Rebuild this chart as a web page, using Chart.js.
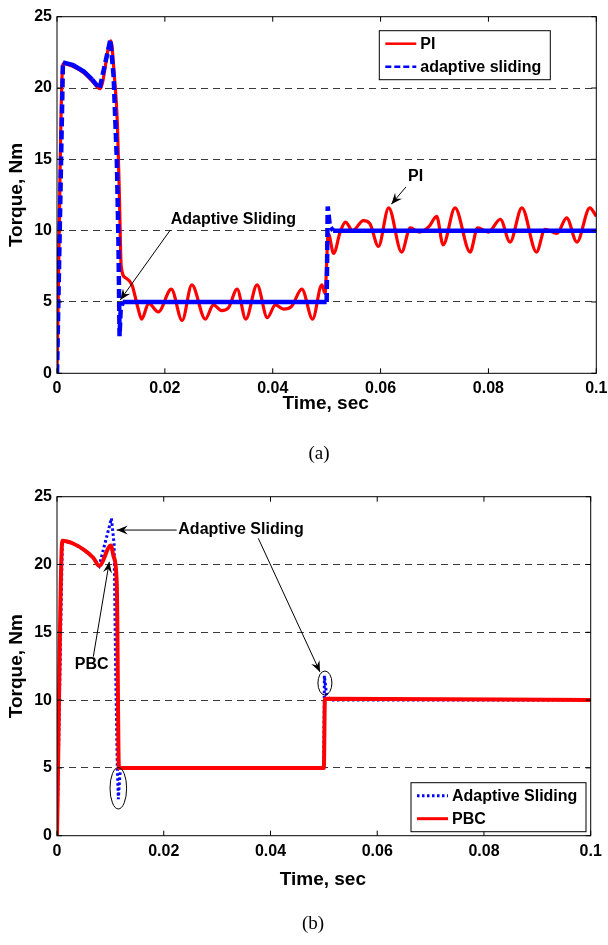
<!DOCTYPE html>
<html><head><meta charset="utf-8">
<script src="https://cdn.jsdelivr.net/npm/chart.js@4.4.0/dist/chart.umd.min.js"></script>
<style>
html,body{margin:0;padding:0;background:#fff;width:608px;height:945px;overflow:hidden;position:relative}
canvas{position:absolute;left:0}
#c1{top:0}
#c2{top:470px}
.cap{position:absolute;font-family:"Liberation Serif","Times New Roman",serif;font-size:19px;color:#000;width:60px;text-align:center;line-height:20px}
</style></head><body>
<canvas id="c1" width="608" height="470"></canvas>
<canvas id="c2" width="608" height="475"></canvas>
<div class="cap" style="left:289px;top:443px">(a)</div>
<div class="cap" style="left:283px;top:913px">(b)</div>
<script>
// ---------- data ----------
const xTicks = [0, 0.02, 0.04, 0.06, 0.08, 0.1];
const yTicks = [0, 5, 10, 15, 20, 25];

// (a) PI controller torque
const piTime = [0,0.0011,0.003,0.005,0.0065,0.0080,0.0100,0.0106,0.0112,0.0116,0.0119,0.0127,0.0139,0.0150,0.0157,0.0170,0.0188,0.0212,0.0232,0.0250,0.0275,0.0290,0.0305,0.0318,0.0334,0.0350,0.0371,0.0390,0.0405,0.0420,0.0435,0.0454,0.0474,0.0491,0.0497,0.0503,0.0513,0.0525,0.0535,0.0548,0.0568,0.0580,0.0596,0.0615,0.0639,0.0655,0.0672,0.0690,0.0704,0.0716,0.0738,0.0766,0.0780,0.0800,0.0822,0.0840,0.0862,0.0889,0.0905,0.0927,0.0945,0.0964,0.0988,0.1000];
const piTorque = [0,21.7,21.5,21.05,20.5,19.95,23.3,21.0,17.5,12,7.5,6.7,6.2,4.6,3.8,4.9,4.3,5.9,3.7,6.2,3.8,4.8,4.4,4.6,5.9,3.8,6.2,3.9,4.8,4.5,4.7,5.9,3.8,6.2,5.6,9.8,8.4,9.9,10.6,10.0,10.7,10.5,8.9,11.6,8.5,10.2,9.9,10.3,11.0,9.0,11.6,8.5,10.2,9.9,10.8,9.2,11.6,8.5,10.1,9.8,10.9,9.2,11.6,11.0];

// (a) adaptive sliding torque
const smcATime = [0,0.0011,0.003,0.005,0.0065,0.0079,0.0099,0.0105,0.0111,0.0114,0.0116,0.0118,0.0122,0.0500,0.0502,0.0506,0.0512,0.1];
const smcATorque = [0,21.8,21.6,21.15,20.6,19.95,23.4,20.8,14.9,9.1,2.6,4.4,5.0,5.0,11.7,10.3,10.0,10.0];

// (b) adaptive sliding torque
const smcBTime = [0,0.0010,0.003,0.005,0.0068,0.0079,0.0102,0.0107,0.0110,0.0113,0.0115,0.0117,0.0119,0.0500,0.0501,0.0505,0.0512,0.1];
const smcBTorque = [0,21.75,21.55,21.1,20.5,19.9,23.4,21.5,12,5,2.7,4.0,5.0,5.0,11.8,10.4,10.0,10.0];

// (b) PBC torque
const pbcTime = [0,0.0010,0.003,0.005,0.0068,0.0079,0.0101,0.0106,0.0112,0.0116,0.0500,0.0502,0.1];
const pbcTorque = [0,21.75,21.55,21.1,20.5,19.9,21.4,20.6,18.6,5.0,5.0,10.1,10.0];

// ---------- helpers ----------
function pts(t, v) { return t.map((x, i) => ({ x: x, y: v[i] })); }
Chart.defaults.font.family = "'Liberation Sans', Arial, sans-serif";
Chart.defaults.font.weight = 'bold';
Chart.defaults.color = '#000';

function drawArrow(ctx, x0, y0, x1, y1) {
  ctx.beginPath(); ctx.moveTo(x0, y0); ctx.lineTo(x1, y1); ctx.stroke();
  const a = Math.atan2(y1 - y0, x1 - x0), L = 11, W = 4.5;
  const c = Math.cos(a), s = Math.sin(a);
  ctx.beginPath();
  ctx.moveTo(x1, y1);
  ctx.lineTo(x1 - L * c + W * s, y1 - L * s - W * c);
  ctx.lineTo(x1 - 0.65 * L * c, y1 - 0.65 * L * s);
  ctx.lineTo(x1 - L * c - W * s, y1 - L * s + W * c);
  ctx.closePath(); ctx.fill();
}

function makeDecor(cfg) {
  return {
    id: 'decor',
    afterDraw(chart) {
      const ctx = chart.ctx, a = chart.chartArea;
      const xs = chart.scales.x, ys = chart.scales.y;
      const X = v => xs.getPixelForValue(v), Y = v => ys.getPixelForValue(v);
      ctx.save();
      // box
      ctx.strokeStyle = '#000'; ctx.lineWidth = 1; ctx.setLineDash([]);
      ctx.strokeRect(a.left, a.top, a.right - a.left, a.bottom - a.top);
      // inward ticks
      ctx.beginPath();
      xTicks.forEach(v => { const p = X(v); ctx.moveTo(p, a.bottom); ctx.lineTo(p, a.bottom - 5); ctx.moveTo(p, a.top); ctx.lineTo(p, a.top + 5); });
      yTicks.forEach(v => { const p = Y(v); ctx.moveTo(a.left, p); ctx.lineTo(a.left + 5, p); ctx.moveTo(a.right, p); ctx.lineTo(a.right - 5, p); });
      ctx.stroke();
      // axis titles
      ctx.fillStyle = '#000';
      ctx.font = "bold 19px 'Liberation Sans', Arial, sans-serif";
      ctx.textAlign = 'center'; ctx.textBaseline = 'middle';
      ctx.fillText('Time, sec', (a.left + a.right) / 2 - 1, cfg.xTitleY);
      ctx.save();
      ctx.translate(17, (a.top + a.bottom) / 2);
      ctx.rotate(-Math.PI / 2);
      ctx.fillText('Torque, Nm', 0, 0);
      ctx.restore();
      // annotations
      ctx.font = "bold 16px 'Liberation Sans', Arial, sans-serif";
      ctx.lineWidth = 1; ctx.strokeStyle = '#000';
      cfg.texts.forEach(t => { ctx.textAlign = t.align || 'center'; ctx.fillText(t.text, X(t.x), Y(t.y)); });
      cfg.arrows.forEach(r => drawArrow(ctx, X(r[0]), Y(r[1]), X(r[2]), Y(r[3])));
      (cfg.ellipses || []).forEach(e => { ctx.beginPath(); ctx.ellipse(X(e.x), Y(e.y), e.rx, e.ry, 0, 0, Math.PI * 2); ctx.stroke(); });
      // legend
      const L = cfg.legend;
      const bx = a.right - L.right - L.w, by = a.top + L.top;
      ctx.fillStyle = '#fff'; ctx.fillRect(bx, by, L.w, L.h);
      ctx.strokeStyle = '#000'; ctx.lineWidth = 1; ctx.strokeRect(bx, by, L.w, L.h);
      ctx.textAlign = 'left';
      L.items.forEach((it, i) => {
        const yy = by + L.row0 + i * L.rowH;
        ctx.strokeStyle = it.color; ctx.lineWidth = it.width; ctx.setLineDash(it.dash);
        ctx.beginPath(); ctx.moveTo(bx + 6, yy); ctx.lineTo(bx + 6 + L.lineLen, yy); ctx.stroke();
        ctx.setLineDash([]);
        ctx.fillStyle = '#000';
        ctx.fillText(it.label, bx + 10 + L.lineLen, yy + 1);
      });
      ctx.restore();
    }
  };
}

function baseOptions(pad, xAxisH) {
  return {
    responsive: false, animation: false, events: [],
    layout: { padding: pad },
    plugins: { legend: { display: false }, tooltip: { enabled: false } },
    elements: { point: { radius: 0 } },
    scales: {
      x: {
        type: 'linear', min: 0, max: 0.1,
        afterBuildTicks: s => { s.ticks = xTicks.map(v => ({ value: v })); },
        afterFit: s => { s.height = xAxisH; s.paddingLeft = 0; s.paddingRight = 0; },
        grid: { display: false, drawTicks: false, tickLength: 0 }, border: { display: false },
        ticks: { padding: 6, font: { size: 16, weight: 'bold' }, maxRotation: 0,
          callback: v => String(Math.round(v * 100) / 100) }
      },
      y: {
        min: 0, max: 25,
        afterBuildTicks: s => { s.ticks = yTicks.map(v => ({ value: v })); },
        afterFit: s => { s.width = 57; s.paddingTop = 0; s.paddingBottom = 0; },
        grid: { drawTicks: false, lineWidth: 1,
          color: c => (c.tick && c.tick.value > 0 && c.tick.value < 25) ? '#3a3a3a' : 'rgba(0,0,0,0)' },
        border: { display: false, dash: [7, 5] },
        ticks: { padding: 5, font: { size: 16, weight: 'bold' } }
      }
    }
  };
}

const steepDash = pat => ({ borderDash: c => (Math.abs(c.p1.y - c.p0.y) > Math.abs(c.p1.x - c.p0.x) ? pat : undefined) });

// ---------- chart (a) ----------
new Chart(document.getElementById('c1'), {
  type: 'line',
  data: {
    datasets: [
      { label: 'adaptive sliding', data: pts(smcATime, smcATorque), borderColor: '#0000ff', borderWidth: 4.5,
        segment: steepDash([9, 4]), order: 0, tension: 0 },
      { label: 'PI', data: pts(piTime, piTorque), borderColor: '#ff0000', borderWidth: 3.2,
        cubicInterpolationMode: 'monotone', order: 1 }
    ]
  },
  options: baseOptions({ left: 0, right: 11.7, top: 16.7, bottom: 0 }, 96.7),
  plugins: [makeDecor({
    xTitleY: 404,
    texts: [
      { text: 'Adaptive Sliding', x: 0.0211, y: 10.75, align: 'left' },
      { text: 'PI', x: 0.0665, y: 13.76 }
    ],
    arrows: [[0.0210, 10.04, 0.01173, 5.14], [0.0647, 13.06, 0.0620, 11.86]],
    legend: { w: 171, h: 49, right: 46, top: 14, row0: 13, rowH: 23, lineLen: 31,
      items: [
        { label: 'PI', color: '#ff0000', width: 2.5, dash: [] },
        { label: 'adaptive sliding', color: '#0000ff', width: 2.5, dash: [6, 3] }
      ] }
  })]
});

// ---------- chart (b) ----------
new Chart(document.getElementById('c2'), {
  type: 'line',
  data: {
    datasets: [
      { label: 'Adaptive Sliding', data: pts(smcBTime, smcBTorque), borderColor: '#0000ff', borderWidth: 3,
        borderDash: [2.5, 2.5], order: 1, tension: 0 },
      { label: 'PBC', data: pts(pbcTime, pbcTorque), borderColor: '#ff0000', borderWidth: 4,
        cubicInterpolationMode: 'monotone', order: 0 }
    ]
  },
  options: baseOptions({ left: 0, right: 17.3, top: 26.7, bottom: 0 }, 109.3),
  plugins: [makeDecor({
    xTitleY: 410,
    texts: [
      { text: 'Adaptive Sliding', x: 0.02273, y: 22.54, align: 'left' },
      { text: 'PBC', x: 0.0065, y: 12.59 }
    ],
    arrows: [[0.02243, 22.54, 0.01119, 22.54], [0.03772, 21.93, 0.04928, 12.07], [0.0068, 13.2, 0.0098, 20.2]],
    ellipses: [{ x: 0.0502, y: 11.26, rx: 7, ry: 12 }, { x: 0.01149, y: 3.5, rx: 8.3, ry: 20.7 }],
    legend: { w: 175, h: 49, right: 4.7, top: 286, row0: 13, rowH: 23, lineLen: 31,
      items: [
        { label: 'Adaptive Sliding', color: '#0000ff', width: 3, dash: [2.5, 2.5] },
        { label: 'PBC', color: '#ff0000', width: 3, dash: [] }
      ] }
  })]
});
</script>
</body></html>
